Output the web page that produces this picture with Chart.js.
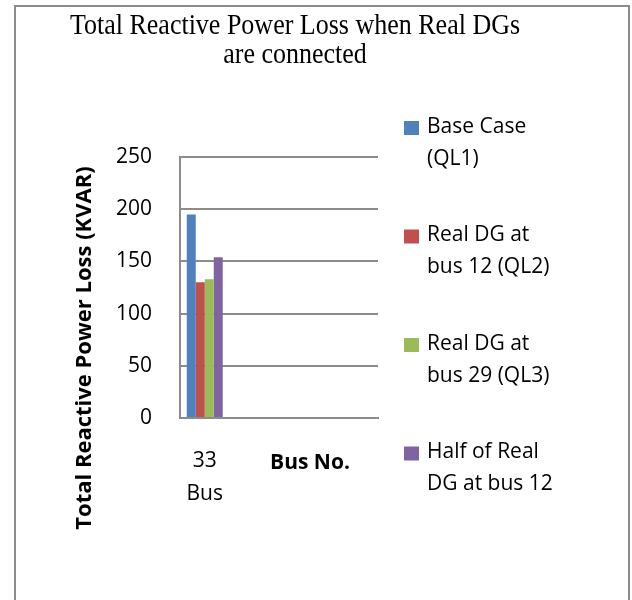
<!DOCTYPE html>
<html lang="en">
  <head>
    <meta charset="UTF-8" />
    <title>Total Reactive Power Loss</title>
    <script src="https://cdn.jsdelivr.net/npm/chart.js"></script>
    <style>
      body { margin: 0; background: #fff; }
    </style>
  </head>
  <body>
    <canvas id="lossChart" width="632" height="600"></canvas>

    <script>
      // data
      const categories = [["33", "Bus"], "", "", ""];
      const seriesNames = [
        ["Base Case", "(QL1)"],
        ["Real DG at", "bus 12 (QL2)"],
        ["Real DG at", "bus 29 (QL3)"],
        ["Half of Real", "DG at bus 12"],
      ];
      const baseCase = [195, null, null, null];
      const realDg12 = [130, null, null, null];
      const realDg29 = [133, null, null, null];
      const halfDg12 = [154, null, null, null];
      const yTicks = [0, 50, 100, 150, 200, 250];

      const colors = ["#4F81BD", "#C0504D", "#9BBB59", "#8064A2"];
      const gridColor = "#8c8c8c";

      Chart.defaults.font.family = "'Open Sans', sans-serif";
      Chart.defaults.color = "#000";

      // title, axis titles, legend and outer frame drawn by hand
      const decorations = {
        id: "decorations",
        afterDraw(chart) {
          const ctx = chart.ctx;
          const area = chart.chartArea;
          ctx.save();

          ctx.strokeStyle = gridColor;
          ctx.lineWidth = 2;
          ctx.strokeRect(15, 6, 614, 640);

          ctx.fillStyle = "#000";
          ctx.textAlign = "center";
          ctx.textBaseline = "alphabetic";
          ctx.font = "26px 'Liberation Serif', 'Times New Roman', serif";
          ctx.save();
          ctx.translate(295, 0);
          ctx.scale(1, 1.12);
          ctx.fillText("Total Reactive Power Loss when Real DGs", 0, 34 / 1.12);
          ctx.fillText("are connected", 0, 63 / 1.12);
          ctx.restore();

          ctx.font = "bold 21px 'Open Sans', sans-serif";
          ctx.textBaseline = "middle";
          ctx.fillText("Bus No.", area.left + 130, 463);

          ctx.save();
          ctx.translate(85, 348);
          ctx.rotate(-Math.PI / 2);
          ctx.font = "bold 22px 'Open Sans', sans-serif";
          ctx.fillText("Total Reactive Power Loss (KVAR)", 0, 0);
          ctx.restore();

          // legend
          ctx.font = "21px 'Open Sans', sans-serif";
          ctx.textAlign = "left";
          chart.data.datasets.forEach((ds, i) => {
            const top = 127 + i * 108.5;
            ctx.fillStyle = ds.backgroundColor;
            ctx.fillRect(area.right + 26, top - 6, 15, 14);
            ctx.fillStyle = "#000";
            seriesNames[i].forEach((line, j) => {
              ctx.fillText(line, area.right + 49, top + j * 32);
            });
          });
          ctx.restore();
        },
      };

      const ctx = document.getElementById("lossChart").getContext("2d");
      new Chart(ctx, {
        type: "bar",
        data: {
          labels: categories,
          datasets: [baseCase, realDg12, realDg29, halfDg12].map((vals, i) => ({
            label: seriesNames[i].join(" "),
            data: vals,
            backgroundColor: colors[i],
            borderWidth: 0,
            categoryPercentage: 0.727,
            barPercentage: 1,
          })),
        },
        options: {
          responsive: false,
          animation: false,
          layout: { padding: { top: 157, right: 254, left: 0, bottom: 0 } },
          plugins: {
            legend: { display: false },
            title: { display: false },
            tooltip: { enabled: false },
          },
          scales: {
            x: {
              grid: { display: false, drawTicks: false },
              border: { display: true, color: gridColor, width: 2 },
              ticks: {
                padding: 27,
                maxRotation: 0,
                autoSkip: false,
                font: { size: 21, lineHeight: 1.55 },
              },
              afterFit(scale) {
                scale.height = 182;
              },
            },
            y: {
              min: 0,
              max: 250,
              afterBuildTicks(scale) {
                scale.ticks = yTicks.map((v) => ({ value: v }));
              },
              grid: { color: gridColor, lineWidth: 2, drawTicks: false },
              border: { display: true, color: gridColor, width: 2 },
              ticks: { padding: 28, font: { size: 21 } },
              afterFit(scale) {
                scale.width = 180;
              },
            },
          },
        },
        plugins: [decorations],
      });
    </script>
  </body>
</html>
